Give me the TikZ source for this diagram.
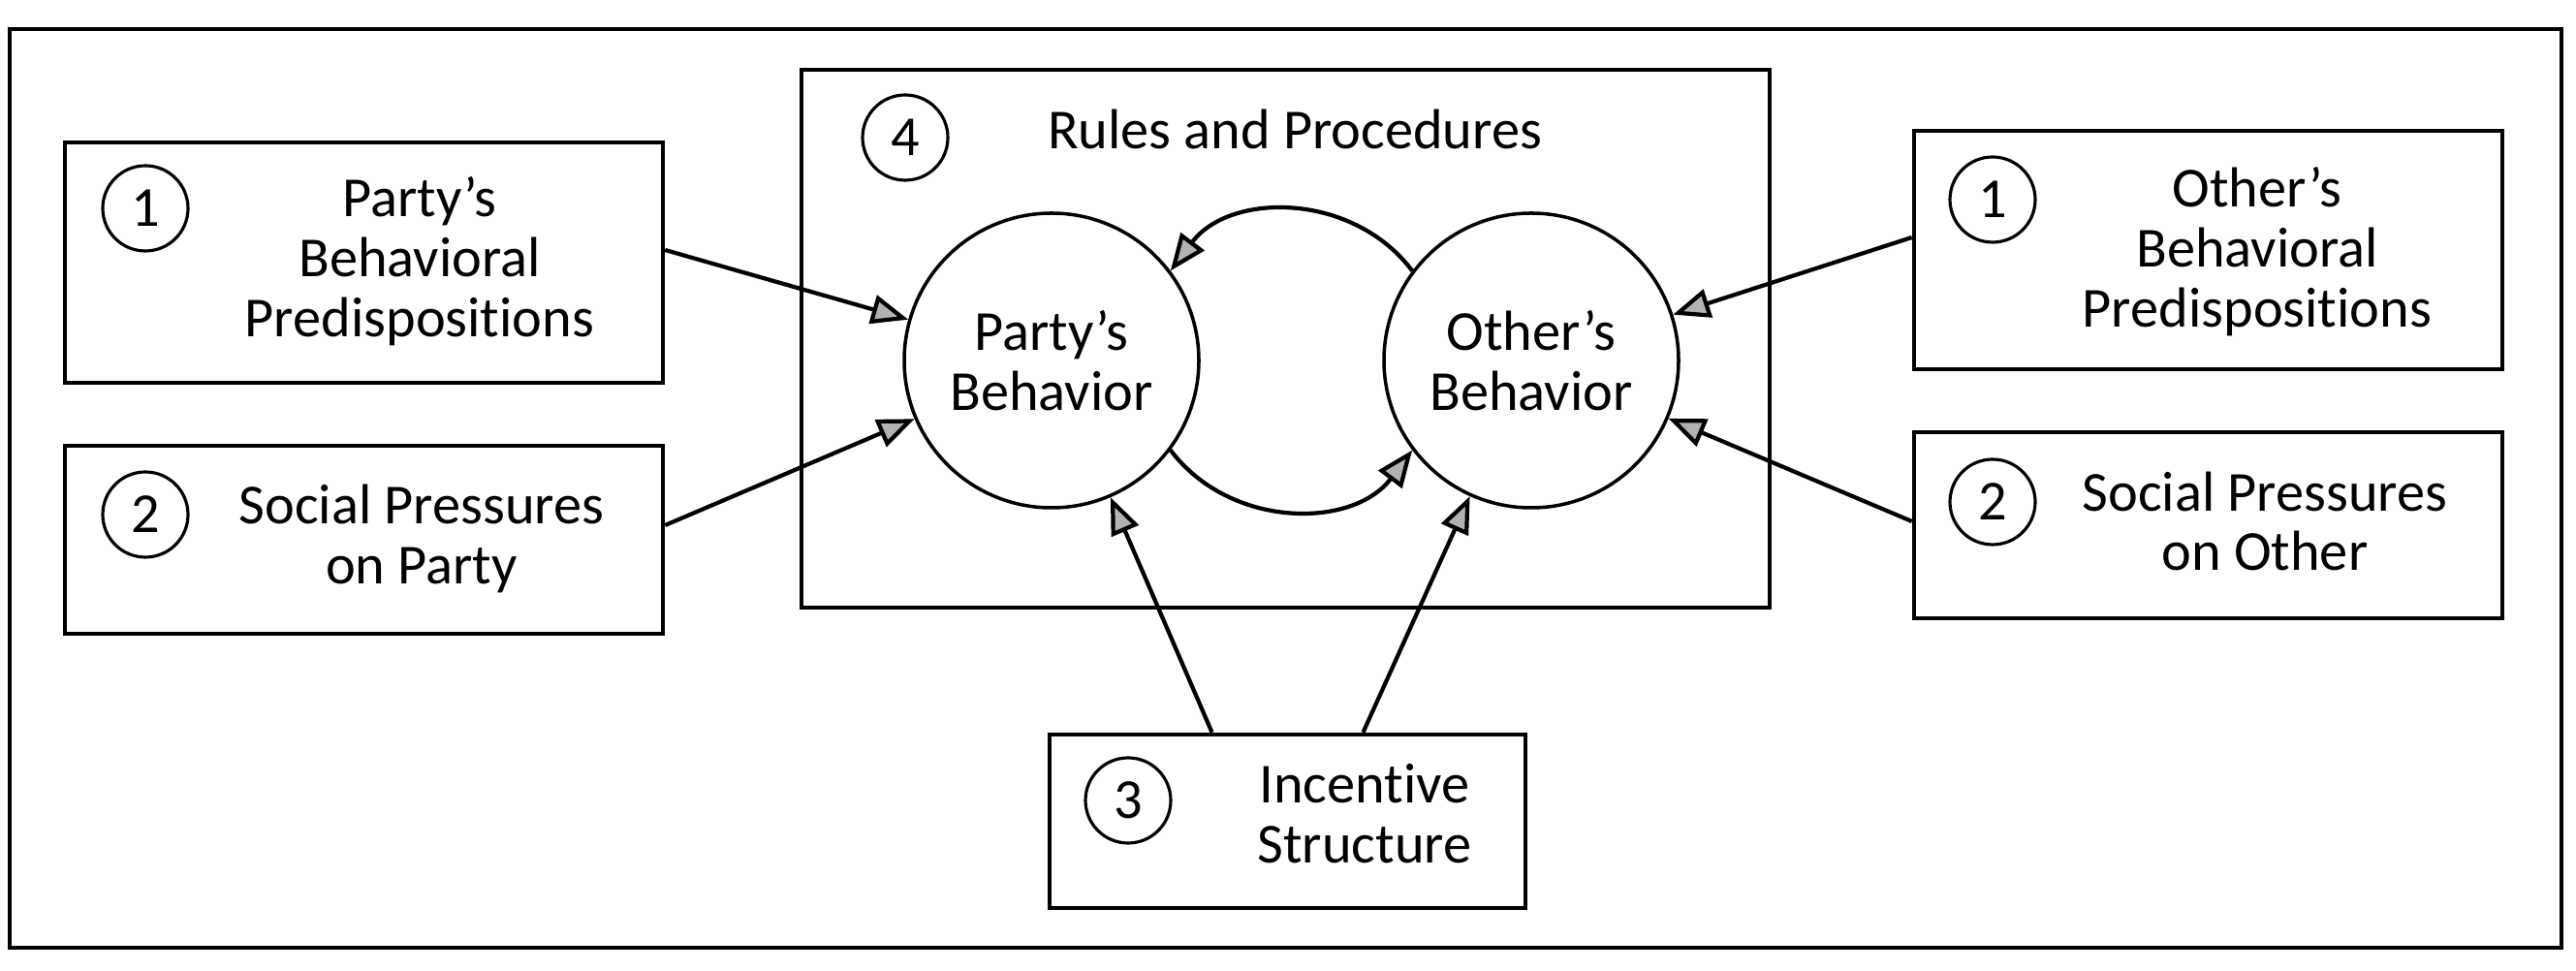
\documentclass[tikz,border=0pt]{standalone}
\usepackage{fontspec}
\setmainfont{Carlito}[Ligatures={TeX,NoCommon}]
\usetikzlibrary{arrows.meta}

\begin{document}
\begin{tikzpicture}[font=\fontsize{16.6}{17.6}\selectfont,
        arr/.style={line width=1.2pt,-{Triangle[length=0.38cm,width=0.3cm,fill=gray!60]}}]
            \useasboundingbox (0,0) rectangle (26.58,10.02);
            \draw [line width=1.4pt] (0.10,0.24) rectangle (26.43,9.72);

            % frames
            \begin{scope}[every node/.style={draw,line width=1.3pt,inner sep=0pt}]
                \node [minimum width=6.17cm,minimum height=2.48cm] (pbox) at (3.755,7.31) {};
                \node [minimum width=6.17cm,minimum height=1.94cm] (ppbox) at (3.755,4.45) {};
                \node [minimum width=6.07cm,minimum height=2.46cm] (obox) at (22.785,7.44) {};
                \node [minimum width=6.07cm,minimum height=1.92cm] (opbox) at (22.785,4.60) {};
                \node [minimum width=9.99cm,minimum height=5.55cm] (rules) at (13.265,6.525) {};
                \node [minimum width=4.91cm,minimum height=1.79cm] (ibox) at (13.285,1.545) {};
            \end{scope}

            \begin{scope}[every node/.style={align=center}]
                \node (ptext) at (4.33,7.32) {Party's\\Behavioral\\Predispositions};
                \node (pptext) at (4.35,4.46) {Social Pressures\\on Party};
                \node (otext) at (23.29,7.42) {Other's\\Behavioral\\Predispositions};
                \node (optext) at (23.37,4.64) {Social Pressures\\on Other};
                \node (itext) at (14.08,1.62) {Incentive\\Structure};
                \node (rtext) at (13.36,8.69) {Rules and Procedures};
            \end{scope}

            \begin{scope}[every node/.style={circle,draw,line width=0.9pt,minimum size=0.88cm,inner sep=0pt}]
                \node (n1p) at (1.50,7.87) {1};
                \node (n2p) at (1.50,4.71) {2};
                \node (n4) at (9.34,8.60) {4};
                \node (n1o) at (20.56,7.96) {1};
                \node (n2o) at (20.56,4.84) {2};
                \node (n3) at (11.64,1.76) {3};
            \end{scope}

            \begin{scope}[every node/.style={circle,draw,line width=1pt,minimum size=3.04cm,inner sep=0pt,align=center}]
                \node (party) at (10.85,6.30) {Party's\\Behavior};
                \node (other) at (15.80,6.30) {Other's\\Behavior};
            \end{scope}

            \begin{scope}
                \path [arr] ([yshift=0.13cm]pbox.east) edge (party);
                \path [arr] ([yshift=0.15cm]ppbox.east) edge (party);
                \path [arr] ([yshift=0.13cm]obox.west) edge (other);
                \path [arr] ([yshift=0.04cm]opbox.west) edge (other);
                \path [arr] ([xshift=-0.78cm]ibox.north) edge (party);
                \path [arr] ([xshift=0.78cm]ibox.north) edge (other);
                \path [arr] (other.143) edge [bend right=53,looseness=1.05] (party.37);
                \path [arr] (party.323) edge [bend right=53,looseness=1.05] (other.217);
            \end{scope}
            \end{tikzpicture}
\end{document}
